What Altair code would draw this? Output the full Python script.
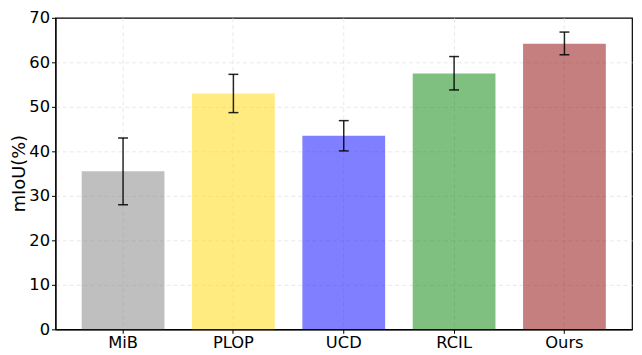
import altair as alt
import pandas as pd

methods = ["MiB", "PLOP", "UCD", "RCIL", "Ours"]
miou = [35.5, 53.0, 43.5, 57.5, 64.2]
err_low = [28.0, 48.7, 40.1, 53.8, 61.7]
err_high = [43.0, 57.3, 46.9, 61.3, 66.8]
colors = ["#808080", "#ffd700", "#0000ff", "#008000", "#8b0000"]
y_ticks = [0, 10, 20, 30, 40, 50, 60, 70]

df = pd.DataFrame({"method": methods, "miou": miou, "low": err_low, "high": err_high})

x_enc = alt.X(
    "method:N",
    sort=methods,
    scale=alt.Scale(paddingInner=0.25, paddingOuter=0.2375),
    axis=alt.Axis(title=None, labelAngle=0, bandPosition=0.5, grid=True,
                  tickSize=4, labelPadding=1, labelFontSize=16.5, labelColor="black",
                  labelFont="DejaVu Sans"),
)

bars = alt.Chart(df).mark_bar(opacity=0.5).encode(
    x=x_enc,
    y=alt.Y("miou:Q", scale=alt.Scale(domain=[0, 70], nice=False),
            axis=alt.Axis(values=y_ticks, title="mIoU(%)", tickSize=4,
                          labelPadding=2, labelFontSize=16.5, labelColor="black",
                          labelFont="DejaVu Sans",
                          titleX=-36, titleY=157, titleBaseline="middle",
                          titleAlign="center", titleAngle=270, titleFontSize=18,
                          gridOpacity={"condition": {"test": "datum.value === 70 || datum.value === 0",
                                                     "value": 0}, "value": 1})),
    color=alt.Color("method:N", scale=alt.Scale(domain=methods, range=colors), legend=None),
)

rules = alt.Chart(df).mark_rule(color="black", strokeWidth=1.5, opacity=0.85).encode(
    x=alt.X("method:N", sort=methods),
    y="low:Q",
    y2="high:Q",
)

caps_low = alt.Chart(df).mark_tick(color="black", size=10, thickness=1.5, opacity=0.85,
                                   orient="horizontal").encode(
    x=alt.X("method:N", sort=methods),
    y="low:Q",
)
caps_high = alt.Chart(df).mark_tick(color="black", size=10, thickness=1.5, opacity=0.85,
                                    orient="horizontal").encode(
    x=alt.X("method:N", sort=methods),
    y="high:Q",
)

chart = alt.layer(bars, rules, caps_low, caps_high).properties(
    width=583,
    height=315,
    autosize=alt.AutoSizeParams(type="none"),
    padding={"left": 48, "top": 8, "right": 2, "bottom": 24},
).configure(
    font="DejaVu Sans",
).configure_axis(
    titleFontWeight="normal",
    titleColor="black",
    tickColor="black",
    domainColor="black",
    domainWidth=1.2,
    tickWidth=1,
    gridColor="#e3e3e3",
    gridDash=[4, 3],
    gridWidth=0.8,
).configure_view(
    stroke="black",
    strokeWidth=1.2,
)

chart.save("out.html", embed_options={"renderer": "svg", "actions": False})
